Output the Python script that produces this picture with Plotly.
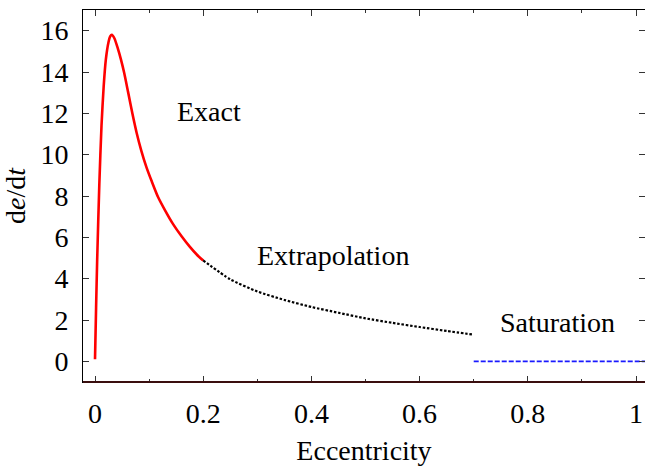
import plotly.graph_objects as go

# Exact (red)
exact_e = [0, 0.002, 0.004, 0.008, 0.012, 0.016, 0.020, 0.025, 0.028, 0.031, 0.036, 0.042,
           0.048, 0.054, 0.061, 0.069, 0.077, 0.0855, 0.095, 0.105, 0.1165, 0.130,
           0.144, 0.160, 0.175, 0.188, 0.200]
exact_v = [0.1, 2.6, 4.9, 8.6, 11.4, 13.3, 14.6, 15.45, 15.72, 15.8, 15.62, 15.15,
           14.6, 13.95, 13.05, 12.0, 11.05, 10.2, 9.4, 8.7, 7.95, 7.28,
           6.65, 6.05, 5.55, 5.17, 4.88]

# Extrapolation (black dotted)
extra_e = [0.2, 0.25, 0.3, 0.35, 0.4, 0.45, 0.5, 0.55, 0.6, 0.65, 0.7]
extra_v = [4.88, 3.97, 3.38, 2.97, 2.63, 2.35, 2.08, 1.86, 1.66, 1.47, 1.29]

# Saturation (blue dashed)
sat_e = [0.7, 1.02]
sat_v = [0.0, 0.0]

x_ticks = [0, 0.2, 0.4, 0.6, 0.8, 1.0]
x_tick_labels = ["0", "0.2", "0.4", "0.6", "0.8", "1"]
y_ticks = [0, 2, 4, 6, 8, 10, 12, 14, 16]

FONT = "Liberation Serif, Times New Roman, serif"
FS = 28

fig = go.Figure()
fig.add_trace(go.Scatter(x=exact_e, y=exact_v, mode="lines", line=dict(color="#ff0000", width=2.6, shape="spline", smoothing=0.6), showlegend=False))
fig.add_trace(go.Scatter(x=extra_e, y=extra_v, mode="lines", line=dict(color="#000000", width=2.2, dash="2.5px,1.8px", shape="spline", smoothing=0.6), showlegend=False))
fig.add_trace(go.Scatter(x=sat_e, y=sat_v, mode="lines", line=dict(color="#1a1aff", width=1.6, dash="5px,2px"), showlegend=False))

ann_font = dict(family=FONT, size=FS, color="black")
fig.add_annotation(x=0.21, y=12.1, text="Exact", showarrow=False, font=ann_font)
fig.add_annotation(x=0.44, y=5.1, text="Extrapolation", showarrow=False, font=ann_font)
fig.add_annotation(x=0.855, y=1.9, text="Saturation", showarrow=False, font=ann_font)

# dark bottom border
fig.add_shape(type="line", xref="paper", yref="paper", x0=0, x1=1, y0=0, y1=0,
              line=dict(color="#3a0e0e", width=2))

fig.update_layout(
    width=645, height=466,
    margin=dict(l=83, r=0, t=10, b=84),
    plot_bgcolor="white", paper_bgcolor="white",
    font=dict(family=FONT, size=FS, color="black"),
    xaxis=dict(
        range=[-0.0222, 1.0166], tickvals=x_ticks, ticktext=x_tick_labels,
        ticks="inside", ticklen=6, tickcolor="#333", tickwidth=1,
        minor=dict(dtick=0.1, tick0=0, ticks="inside", ticklen=3, tickcolor="#333"),
        showgrid=False, zeroline=False, showline=True, linecolor="black", linewidth=1, mirror="ticks",
        title=dict(text="Eccentricity", font=dict(family=FONT, size=FS), standoff=12),
        tickfont=dict(family=FONT, size=FS),
        ticklabelstandoff=6,
    ),
    yaxis=dict(
        range=[-1, 17], tickvals=y_ticks,
        ticks="inside", ticklen=6, tickcolor="#333", tickwidth=1,
        showgrid=False, zeroline=False, showline=True, linecolor="black", linewidth=1, mirror="ticks",
        title=dict(text="d<i>e</i>/d<i>t</i>", font=dict(family=FONT, size=FS), standoff=10),
        tickfont=dict(family=FONT, size=FS),
        ticklabelstandoff=8,
    ),
)

fig.write_html("out.html", config={"displayModeBar": False},
               post_script="document.body.style.margin='0';document.body.style.overflow='hidden';")
